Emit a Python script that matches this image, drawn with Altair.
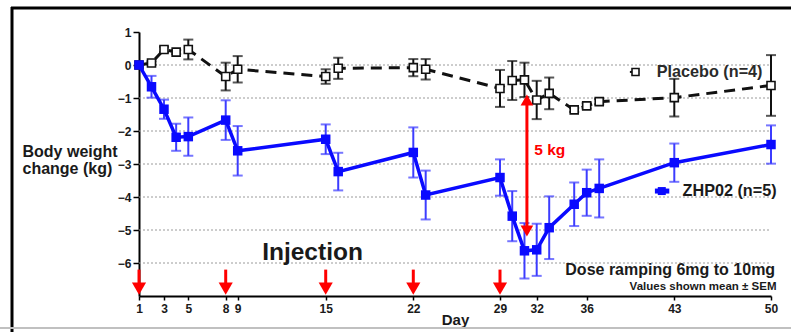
import altair as alt
import pandas as pd

# ---------------- data ----------------
days = [1, 2, 3, 4, 5, 8, 9, 15, 16, 22, 23, 29, 30, 31, 32, 33, 35, 36, 37, 43, 50]
zhp_mean = [0, -0.66, -1.34, -2.19, -2.17, -1.67, -2.60, -2.25, -3.23, -2.65, -3.94,
            -3.41, -4.58, -5.63, -5.60, -4.93, -4.22, -3.87, -3.74, -2.96, -2.41]
zhp_sem = [0, 0.33, 0.29, 0.41, 0.58, 0.60, 0.75, 0.45, 0.57, 0.76, 0.74,
           0.55, 0.76, 0.84, 0.79, 0.95, 0.66, 0.70, 0.88, 0.58, 0.58]
pla_mean = [0, 0.06, 0.47, 0.39, 0.47, -0.35, -0.13, -0.35, -0.10, -0.08, -0.13,
            -0.71, -0.47, -0.45, -1.06, -0.86, -1.36, -1.24, -1.11, -0.99, -0.62]
pla_sem = [0, 0.05, 0.08, 0.06, 0.30, 0.42, 0.40, 0.22, 0.32, 0.26, 0.31,
           0.56, 0.59, 0.52, 0.58, 0.48, 0.06, 0.08, 0.08, 0.57, 0.92]

x_ticks = [1, 3, 5, 8, 9, 15, 22, 29, 32, 36, 43, 50]
y_ticks = [1, 0, -1, -2, -3, -4, -5, -6]
grid_vals = [0, -1, -2, -3, -4, -5, -6]
injection_days = [1, 8, 15, 22, 29]

# ---------------- layout ----------------
W, H = 632, 264
# the reference's day axis is slightly uneven; follow its tick positions
x_tick_pos = [0, 25, 49.3, 86.7, 98.7, 186.7, 274.3, 361, 397.7, 447.7, 535.3, 632]
FONT = "Liberation Sans"

xs = alt.Scale(domain=x_ticks, range=x_tick_pos, nice=False, zero=False)
ys = alt.Scale(domain=[-7, 1], nice=False, zero=False)

x_axis = alt.Axis(values=x_ticks, grid=False, domainColor="black", domainWidth=2,
                  tickColor="black", tickWidth=1.5, tickSize=4, labelPadding=3,
                  labelFont=FONT, labelFontWeight="bold", labelFontSize=12, labelColor="#1a1a1a",
                  labelFlush=False, labelOverlap=False,
                  titleFont=FONT, titleFontWeight="bold", titleFontSize=15, titleColor="#1a1a1a",
                  titleY=28, titleBaseline="alphabetic")
y_axis = alt.Axis(values=y_ticks, grid=False, domainColor="black", domainWidth=2,
                  tickColor="black", tickWidth=1.5, tickSize=6, labelPadding=2,
                  labelFont=FONT, labelFontWeight="bold", labelFontSize=12, labelColor="#1a1a1a",
                  labelFlush=False, labelOverlap=False,
                  titleFont=FONT, titleFontWeight="bold", titleFontSize=16, titleColor="#1a1a1a",
                  titleAngle=0, titleAlign="left", titleX=-117, titleY=124,
                  titleBaseline="alphabetic", titleLineHeight=17)

Y_TITLE = ["Body weight", "change (kg)"]


def X(field):
    return alt.X(f"{field}:Q", scale=xs, axis=x_axis, title="Day")


def Y(field):
    return alt.Y(f"{field}:Q", scale=ys, axis=y_axis, title=Y_TITLE)


df_z = pd.DataFrame({"day": days, "mean": zhp_mean, "sem": zhp_sem})
df_z["lo"] = df_z["mean"] - df_z["sem"]
df_z["hi"] = df_z["mean"] + df_z["sem"]
df_p = pd.DataFrame({"day": days, "mean": pla_mean, "sem": pla_sem})
df_p["lo"] = df_p["mean"] - df_p["sem"]
df_p["hi"] = df_p["mean"] + df_p["sem"]
ez = df_z[df_z["sem"] > 0]
ep = df_p[df_p["sem"] > 0]

BLUE = "#0a0aff"
BLUE_E = "#3c3cff"
BLACK = "#111111"
RED = "#ff0000"

grid = alt.Chart(pd.DataFrame({"v": grid_vals, "d0": 1, "d1": 50})).mark_rule(
    color="#9a9a9a", strokeDash=[2, 2], strokeWidth=1
).encode(x=X("d0"), x2="d1:Q", y=Y("v"))

# placebo
p_line = alt.Chart(df_p).mark_line(color=BLACK, strokeWidth=3, strokeDash=[11, 7]).encode(
    x=X("day"), y=Y("mean"))
p_err = alt.Chart(ep).mark_rule(color=BLACK, strokeWidth=2).encode(x=X("day"), y=Y("lo"), y2="hi:Q")
p_cap_lo = alt.Chart(ep).mark_tick(color=BLACK, orient="horizontal", size=10, thickness=2).encode(
    x=X("day"), y=Y("lo"))
p_cap_hi = alt.Chart(ep).mark_tick(color=BLACK, orient="horizontal", size=10, thickness=2).encode(
    x=X("day"), y=Y("hi"))
p_pts = alt.Chart(df_p).mark_square(size=64, filled=True, color="white", stroke=BLACK,
                                     strokeWidth=1.6, opacity=1).encode(x=X("day"), y=Y("mean"))

# ZHP02
z_err = alt.Chart(ez).mark_rule(color=BLUE_E, strokeWidth=2).encode(x=X("day"), y=Y("lo"), y2="hi:Q")
z_cap_lo = alt.Chart(ez).mark_tick(color=BLUE_E, orient="horizontal", size=10, thickness=2).encode(
    x=X("day"), y=Y("lo"))
z_cap_hi = alt.Chart(ez).mark_tick(color=BLUE_E, orient="horizontal", size=10, thickness=2).encode(
    x=X("day"), y=Y("hi"))
z_line = alt.Chart(df_z).mark_line(color=BLUE, strokeWidth=3.5).encode(x=X("day"), y=Y("mean"))
z_pts = alt.Chart(df_z).mark_square(size=90, color=BLUE, opacity=1).encode(x=X("day"), y=Y("mean"))

# injection arrows
inj = pd.DataFrame({"day": injection_days, "top": -6.2, "bot": -6.62, "head": -6.78})
inj_shaft = alt.Chart(inj).mark_rule(color=RED, strokeWidth=3).encode(x=X("day"), y=Y("top"), y2="bot:Q")
inj_head = alt.Chart(inj).mark_point(shape="triangle-down", filled=True, color=RED, size=200,
                                     opacity=1).encode(x=X("day"), y=Y("head"))

# 5 kg double arrow
dbl = pd.DataFrame({"day": [31.2], "top": [-1.05], "bot": [-5.0]})
dbl_shaft = alt.Chart(dbl).mark_rule(color=RED, strokeWidth=3).encode(x=X("day"), y=Y("top"), y2="bot:Q")
dbl_heads = alt.Chart(pd.DataFrame({"day": [31.2, 31.2], "v": [-1.06, -5.03],
                                    "shape": ["triangle-up", "triangle-down"]})).mark_point(
    filled=True, color=RED, size=160, opacity=1).encode(
    x=X("day"), y=Y("v"), shape=alt.Shape("shape:N", scale=None, legend=None))
five = alt.Chart(pd.DataFrame({"day": [31.8], "v": [-2.72], "t": ["5 kg"]})).mark_text(
    font=FONT, fontWeight="bold", fontSize=15.5, color=RED, align="left", baseline="alphabetic"
).encode(x=X("day"), y=Y("v"), text="t:N")

# legend-like labels
leg_p_sym = alt.Chart(pd.DataFrame({"day": [39.9], "v": [-0.21]})).mark_square(
    size=49, filled=True, color="white", stroke=BLACK, strokeWidth=1.6, opacity=1).encode(
    x=X("day"), y=Y("v"))
leg_p_tick = alt.Chart(pd.DataFrame({"d0": [39.45], "d1": [39.75], "v": [-0.21]})).mark_rule(
    color=BLACK, strokeWidth=2).encode(x=X("d0"), x2="d1:Q", y=Y("v"))
leg_p_txt = alt.Chart(pd.DataFrame({"day": [41.6], "v": [-0.21], "t": ["Placebo (n=4)"]})).mark_text(
    font=FONT, fontWeight="bold", fontSize=16.2, color="#2a2a2a", align="left", baseline="middle"
).encode(x=X("day"), y=Y("v"), text="t:N")

leg_z_line = alt.Chart(pd.DataFrame({"d0": [41.45], "d1": [42.6], "v": [-3.82]})).mark_rule(
    color=BLUE, strokeWidth=5).encode(x=X("d0"), x2="d1:Q", y=Y("v"))
leg_z_sym = alt.Chart(pd.DataFrame({"day": [42.0], "v": [-3.82]})).mark_square(
    size=64, color=BLUE, opacity=1).encode(x=X("day"), y=Y("v"))
leg_z_txt = alt.Chart(pd.DataFrame({"day": [43.6], "v": [-3.82], "t": ["ZHP02 (n=5)"]})).mark_text(
    font=FONT, fontWeight="bold", fontSize=16.2, color="#1a1a1a", align="left", baseline="middle"
).encode(x=X("day"), y=Y("v"), text="t:N")

injection_txt = alt.Chart(pd.DataFrame({"day": [14.1], "v": [-5.91], "t": ["Injection"]})).mark_text(
    font=FONT, fontWeight="bold", fontSize=24.5, color="#1a1a1a", align="center", baseline="alphabetic"
).encode(x=X("day"), y=Y("v"), text="t:N")
dose_txt = alt.Chart(pd.DataFrame({"day": [50.3], "v": [-6.37], "t": ["Dose ramping 6mg to 10mg"]})).mark_text(
    font=FONT, fontWeight="bold", fontSize=16, color="#1a1a1a", align="right", baseline="alphabetic"
).encode(x=X("day"), y=Y("v"), text="t:N")
sem_txt = alt.Chart(pd.DataFrame({"day": [50.4], "v": [-6.83], "t": ["Values shown mean ± SEM"]})).mark_text(
    font=FONT, fontWeight="bold", fontSize=11.5, color="#1a1a1a", align="right", baseline="alphabetic"
).encode(x=X("day"), y=Y("v"), text="t:N")

# frame of the picture
one = alt.Data(values=[{}])
frame_left = alt.Chart(one).mark_rule(color="black", strokeWidth=3).encode(
    x=alt.value(-127), y=alt.value(-25), y2=alt.value(300))
frame_top = alt.Chart(one).mark_rule(color="black", strokeWidth=3).encode(
    y=alt.value(-24), x=alt.value(-128), x2=alt.value(652))
frame_bottom = alt.Chart(one).mark_rule(color="#c0c0c0", strokeWidth=2).encode(
    y=alt.value(296), x=alt.value(-139), x2=alt.value(652))

chart = alt.layer(
    grid, p_line, p_err, p_cap_lo, p_cap_hi, p_pts,
    z_err, z_cap_lo, z_cap_hi, z_line, z_pts,
    inj_shaft, inj_head, dbl_shaft, dbl_heads, five,
    leg_p_tick, leg_p_sym, leg_p_txt, leg_z_line, leg_z_sym, leg_z_txt,
    injection_txt, dose_txt, sem_txt,
    frame_left, frame_top, frame_bottom,
).properties(
    width=W, height=H,
    autosize=alt.AutoSizeParams(type="none"),
    padding={"left": 139, "top": 32, "right": 20, "bottom": 36},
    background="white",
).configure_view(stroke=None)

chart.save("out.html", embed_options={"renderer": "svg", "actions": False})
